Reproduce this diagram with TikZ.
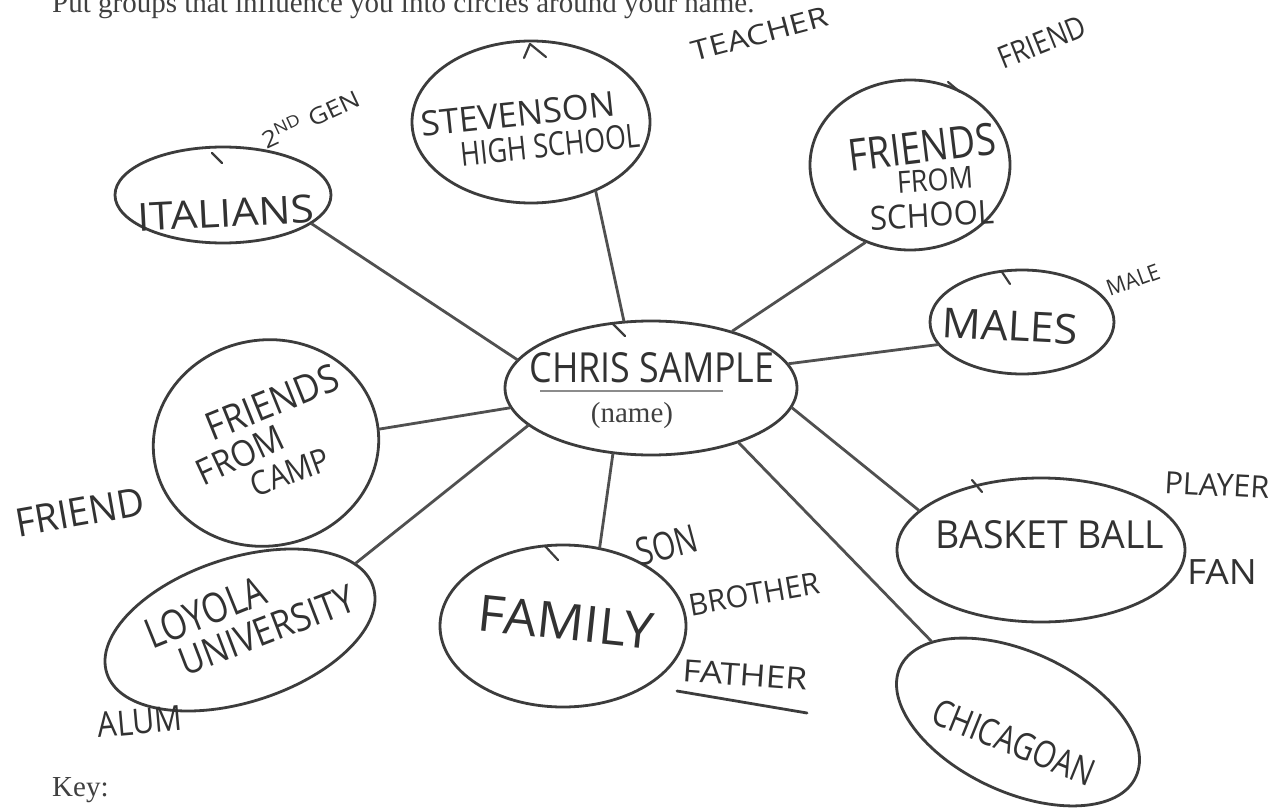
\documentclass[tikz,border=0pt]{standalone}
\usepackage{fontspec}
\setmainfont{Liberation Serif}
\newfontfamily\handfont{Open Sans}
\usetikzlibrary{shapes.geometric}
\definecolor{ink}{RGB}{50,50,50}
\definecolor{pen}{RGB}{60,60,60}
\newcommand\hw[3]{\resizebox{#1pt}{#2pt}{\handfont #3}}
\tikzset{
  blob/.style={ellipse, draw=pen, line width=2.8pt, inner sep=0pt},
  conn/.style={draw=pen!90, line width=2.8pt, line cap=round},
  hook/.style={draw=pen, line width=2.2pt, line cap=round},
  hand/.style={text=ink, inner sep=0pt},
  printed/.style={text=black!75, inner sep=0pt, font=\fontsize{29}{34}\selectfont}
}
\begin{document}
\begin{tikzpicture}[x=1pt,y=-1pt]
\useasboundingbox[fill=white] (0,0) rectangle (1275,808);

% printed text
\node[printed, anchor=base west] (title) at (52,13) {Put groups that influence you into circles around your name.};
\node[printed, anchor=base west] (key) at (52,796) {Key:};

% ellipses
\node[blob, minimum width=292pt, minimum height=134pt] (chris) at (651,388) {};
\node[blob, minimum width=238pt, minimum height=162pt] (stev) at (531,122) {};
\node[blob, minimum width=216pt, minimum height=96pt] (ital) at (223,195) {};
\node[blob, minimum width=200pt, minimum height=170pt] (fsch) at (910,165) {};
\node[blob, minimum width=184pt, minimum height=104pt] (males) at (1022,322) {};
\node[blob, minimum width=226pt, minimum height=206pt, rotate=10] (camp) at (266,443) {};
\node[blob, minimum width=280pt, minimum height=144pt, rotate=18] (loyola) at (240,630) {};
\node[blob, minimum width=246pt, minimum height=162pt] (family) at (563,626) {};
\node[blob, minimum width=288pt, minimum height=144pt] (basket) at (1041,550) {};
\node[blob, minimum width=260pt, minimum height=140pt, rotate=-25] (chicago) at (1018,722) {};

% small pen hooks where the circles were closed
\draw[hook] (530,44) -- (524,58);
\draw[hook] (530,44) -- (546,57);
\draw[hook] (212,153) -- (222,163);
\draw[hook] (948,82) -- (960,92);
\draw[hook] (612,323) -- (625,336);
\draw[hook] (545,546) -- (558,560);
\draw[hook] (972,480) -- (982,492);
\draw[hook] (1002,272) -- (1010,284);

% connectors
\draw[conn] (chris.112) -- (stev.-47);
\draw[conn] (chris.168) -- (ital.-18);
\draw[conn] (chris.35) -- (fsch.240);
\draw[conn] (chris.10) -- (males.195);
\draw[conn] (chris.188) -- (camp.-3);
\draw[conn] (chris.197) -- (loyola.12);
\draw[conn] (chris.240) -- (family.65);
\draw[conn] (chris.352) -- (basket.162);
\draw[conn] (chris.328) -- (chicago.162);

% texts inside ellipses
\node[hand] (tchris) at (652,368) {\hw{245}{30}{CHRIS SAMPLE}};
\draw[black!45, line width=1.6pt] (540,391) -- (723,391);
\node[printed] (tname) at (632,416) {(name)};

\node[hand, rotate=6] (tstev1) at (518,114) {\hw{195}{25}{STEVENSON}};
\node[hand, rotate=6] (tstev2) at (550,145) {\hw{180}{24}{HIGH SCHOOL}};
\node[hand, rotate=3] (tital) at (226,213) {\hw{176}{28}{ITALIANS}};
\node[hand, rotate=7] (tfs1) at (922,147) {\hw{148}{32}{FRIENDS}};
\node[hand, rotate=4] (tfs2) at (935,180) {\hw{76}{22}{FROM}};
\node[hand, rotate=3] (tfs3) at (932,215) {\hw{124}{24}{SCHOOL}};
\node[hand, rotate=-3] (tmales) at (1010,326) {\hw{136}{30}{MALES}};
\node[hand, rotate=22] (tcamp1) at (272,402) {\hw{140}{28}{FRIENDS}};
\node[hand, rotate=25] (tcamp2) at (240,455) {\hw{92}{26}{FROM}};
\node[hand, rotate=20] (tcamp3) at (290,472) {\hw{82}{24}{CAMP}};
\node[hand, rotate=22] (tloy1) at (205,612) {\hw{126}{30}{LOYOLA}};
\node[hand, rotate=21] (tloy2) at (267,630) {\hw{185}{28}{UNIVERSITY}};
\node[hand, rotate=-6] (tfam) at (566,622) {\hw{176}{36}{FAMILY}};
\node[hand] (tbask) at (1050,535) {\hw{228}{28}{BASKET BALL}};
\node[hand, rotate=-22] (tchi) at (1014,742) {\hw{172}{27}{CHICAGOAN}};

% side labels
\node[hand, rotate=15] (lteach) at (760,34) {\hw{140}{20}{TEACHER}};
\node[hand, rotate=25] (lgen) at (310,118) {\hw{105}{20}{2\textsuperscript{ND} GEN}};
\node[hand, rotate=22] (lfr1) at (1042,42) {\hw{92}{22}{FRIEND}};
\node[hand, rotate=20] (lmale) at (1133,280) {\hw{55}{16}{MALE}};
\node[hand, rotate=10] (lfr2) at (80,512) {\hw{130}{28}{FRIEND}};
\node[hand, rotate=-3] (lplay) at (1217,485) {\hw{105}{22}{PLAYER}};
\node[hand] (lfan) at (1222,572) {\hw{70}{25}{FAN}};
\node[hand, rotate=15] (lson) at (667,545) {\hw{62}{28}{SON}};
\node[hand, rotate=10] (lbro) at (754,594) {\hw{132}{22}{BROTHER}};
\node[hand, rotate=-4] (lfat) at (745,675) {\hw{125}{22}{FATHER}};
\draw[pen, line width=2.8pt, line cap=round] (677,691) -- (807,713);
\node[hand, rotate=5] (lalum) at (140,722) {\hw{85}{25}{ALUM}};
\end{tikzpicture}
\end{document}
